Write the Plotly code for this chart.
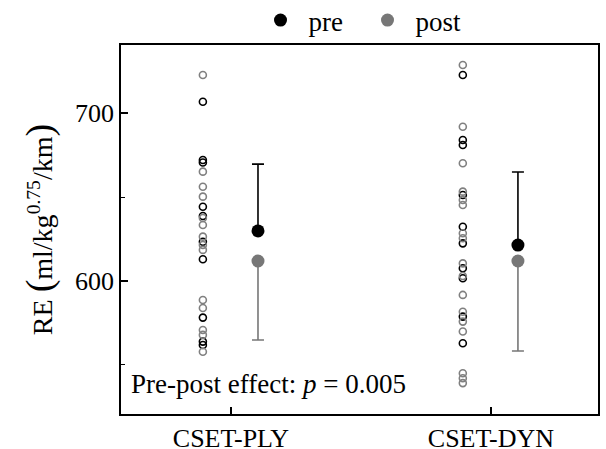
import plotly.graph_objects as go

# ---- data ----
categories = ["CSET-PLY", "CSET-DYN"]
ply_pre = [706.7, 672.0, 670.5, 644.2, 638.7, 623.4, 612.9, 578.2, 563.9, 561.9]
ply_post = [722.6, 665.1, 656.1, 650.2, 637.5, 633.3, 626.4, 621.4, 618.5,
            588.7, 583.9, 570.8, 567.9, 557.9]
dyn_pre = [722.6, 683.9, 681.0, 651.2, 632.3, 622.4, 607.6, 601.6, 578.8, 562.9]
dyn_post = [728.6, 691.8, 670.1, 653.2, 648.2, 645.2, 628.4, 625.4, 610.5,
            603.0, 591.7, 581.7, 575.8, 569.9, 545.1, 542.1, 539.2]
pre_mean = [629.8, 621.4]
pre_sd = [39.8, 43.5]
post_mean = [611.9, 611.9]
post_sd = [47.0, 53.6]
annotation_text = "Pre-post effect: <i>p</i> = 0.005"
y_title = ("RE <span style='font-size:38px'>(</span>ml/kg<sup>0.75</sup>/km"
           "<span style='font-size:38px'>)</span>")

# ---- style ----
BLACK = "#000000"
GRAY = "#777777"
GRAY_PTS = "#808080"
FONT = "Liberation Serif"
SCAT_OFF = -0.108
MEAN_OFF = 0.104

fig = go.Figure()

pre_groups = [ply_pre, dyn_pre]
post_groups = [ply_post, dyn_post]

for i, vals in enumerate(pre_groups):
    fig.add_trace(go.Scatter(
        x=[i + SCAT_OFF] * len(vals), y=vals, mode="markers",
        marker=dict(symbol="circle-open", size=7, color=BLACK, line=dict(width=1.6)),
        showlegend=False, hoverinfo="y"))
for i, vals in enumerate(post_groups):
    fig.add_trace(go.Scatter(
        x=[i + SCAT_OFF] * len(vals), y=vals, mode="markers",
        marker=dict(symbol="circle-open", size=7, color=GRAY_PTS, line=dict(width=1.6)),
        showlegend=False, hoverinfo="y"))

xm = [i + MEAN_OFF for i in range(len(categories))]
fig.add_trace(go.Scatter(
    x=xm, y=pre_mean, mode="markers", name="pre",
    marker=dict(size=13, color=BLACK),
    error_y=dict(type="data", symmetric=False, array=pre_sd,
                 arrayminus=[0] * len(pre_sd), color=BLACK, thickness=1.6, width=6)))
fig.add_trace(go.Scatter(
    x=xm, y=post_mean, mode="markers", name="post",
    marker=dict(size=13, color=GRAY),
    error_y=dict(type="data", symmetric=False, array=[0] * len(post_sd),
                 arrayminus=post_sd, color=GRAY, thickness=1.6, width=6)))

fig.add_annotation(x=0.017, y=0.035, xref="paper", yref="paper",
                   xanchor="left", yanchor="bottom", showarrow=False,
                   text=annotation_text, font=dict(size=27, family=FONT, color="black"))

fig.update_layout(
    width=606, height=449,
    margin=dict(l=121, r=8, t=45, b=35, autoexpand=False),
    paper_bgcolor="white", plot_bgcolor="white",
    font=dict(family=FONT, size=26, color="black"),
    legend=dict(orientation="h", x=0.5, xanchor="center", y=1.0, yanchor="bottom",
                font=dict(size=27), itemwidth=46, entrywidth=46,
                bgcolor="rgba(0,0,0,0)"),
    xaxis=dict(range=[-0.423, 1.412], tickvals=[0, 1], ticktext=categories,
               tickfont=dict(size=26),
               ticks="inside", ticklen=7, tickwidth=1.5, tickcolor="black",
               showgrid=False, zeroline=False, showline=True, linecolor="black",
               linewidth=1.5, mirror=True),
    yaxis=dict(range=[520.8, 740.5], tickvals=[600, 700], tickfont=dict(size=26),
               ticks="inside", ticklen=7, tickwidth=1.5, tickcolor="black",
               minor=dict(tickvals=[550, 650], ticks="inside", ticklen=4,
                          tickwidth=1.2, tickcolor="black"),
               showgrid=False, zeroline=False, showline=True, linecolor="black",
               linewidth=1.5, mirror=True,
               title=dict(text=y_title, standoff=14, font=dict(size=28))),
)

fig.write_html("out.html", config={"displayModeBar": False},
               post_script="document.body.style.margin='0';")
